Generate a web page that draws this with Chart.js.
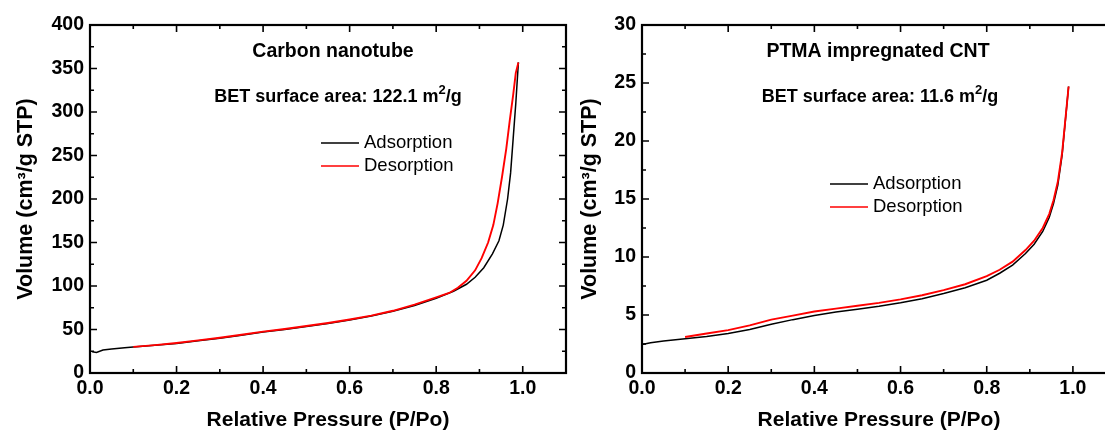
<!DOCTYPE html>
<html>
<head>
<meta charset="utf-8">
<title>N2 isotherms - CNT vs PTMA/CNT</title>
<script src="https://cdn.jsdelivr.net/npm/chart.js@4.4.1/dist/chart.umd.min.js"></script>
<style>
    html, body { margin: 0; padding: 0; background: #fff; overflow: hidden; }
    body { width: 1105px; height: 434px; position: relative; }
    .panel { position: absolute; top: 0; }
    #cntPanel { left: 0; }
    #ptmaPanel { left: 564px; }
</style>
</head>
<body>
<div class="panel" id="cntPanel"><canvas id="cntChart" width="580" height="434"></canvas></div>
<div class="panel" id="ptmaPanel"><canvas id="ptmaChart" width="566" height="434"></canvas></div>
<script>
// --- Data ---
const pressureTicks = [0, 0.2, 0.4, 0.6, 0.8, 1.0];
const cntVolumeTicks = [0, 50, 100, 150, 200, 250, 300, 350, 400];
const ptmaVolumeTicks = [0, 5, 10, 15, 20, 25, 30];

// Carbon nanotube
const cntAdsP = [0.005, 0.015, 0.03, 0.05, 0.08, 0.1, 0.15, 0.2, 0.25, 0.3, 0.35, 0.4, 0.45, 0.5, 0.55, 0.6, 0.65, 0.7, 0.75, 0.8, 0.84, 0.87, 0.89, 0.91, 0.93, 0.945, 0.955, 0.965, 0.972, 0.978, 0.984, 0.99];
const cntAdsV = [24.5, 23.5, 26.5, 27.5, 29, 30, 32, 34, 37, 40, 43.5, 47, 50, 53.5, 57, 61, 65.5, 71, 77.5, 86, 94, 102, 110, 121, 137, 152, 170, 200, 230, 270, 310, 357];
const cntDesP = [0.99, 0.984, 0.978, 0.97, 0.962, 0.952, 0.942, 0.932, 0.92, 0.905, 0.89, 0.87, 0.85, 0.83, 0.8, 0.75, 0.7, 0.65, 0.6, 0.55, 0.5, 0.45, 0.4, 0.35, 0.3, 0.25, 0.2, 0.15, 0.1];
const cntDesV = [357, 345, 320, 290, 258, 225, 195, 170, 150, 132, 118, 106, 98, 92, 87, 78.5, 71.5, 66, 61.5, 57.5, 54, 50.5, 47.5, 44, 40.5, 37.5, 34.5, 32, 30];

// PTMA impregnated CNT
const ptmaAdsP = [0.0, 0.02, 0.05, 0.1, 0.15, 0.2, 0.25, 0.3, 0.35, 0.4, 0.45, 0.5, 0.55, 0.6, 0.65, 0.7, 0.75, 0.8, 0.83, 0.86, 0.89, 0.91, 0.93, 0.945, 0.955, 0.965, 0.975, 0.99];
const ptmaAdsV = [2.45, 2.6, 2.75, 2.95, 3.15, 3.4, 3.75, 4.2, 4.6, 4.95, 5.25, 5.5, 5.75, 6.05, 6.4, 6.85, 7.35, 8.0, 8.6, 9.3, 10.3, 11.1, 12.2, 13.4, 14.6, 16.2, 18.8, 24.7];
const ptmaDesP = [0.99, 0.975, 0.965, 0.955, 0.945, 0.93, 0.91, 0.89, 0.86, 0.83, 0.8, 0.75, 0.7, 0.65, 0.6, 0.55, 0.5, 0.45, 0.4, 0.35, 0.3, 0.25, 0.2, 0.15, 0.1];
const ptmaDesV = [24.7, 19.0, 16.5, 14.9, 13.7, 12.5, 11.4, 10.6, 9.6, 8.9, 8.35, 7.65, 7.15, 6.7, 6.35, 6.05, 5.8, 5.55, 5.3, 4.95, 4.6, 4.1, 3.7, 3.4, 3.1];

const FONT = '"Liberation Sans", Arial, sans-serif';
Chart.defaults.font.family = FONT;
Chart.defaults.color = '#000';

function toPoints(ps, vs) {
    return ps.map((p, i) => ({ x: p, y: vs[i] }));
}

// midpoints between major ticks -> minor tick marks
function minorsOf(major) {
    const out = [];
    for (let i = 0; i < major.length - 1; i++) out.push((major[i] + major[i + 1]) / 2);
    return out;
}

// --- Plugin: closed frame with inward ticks on all four sides ---
const frameTicks = {
    id: 'frameTicks',
    afterDatasetsDraw(chart) {
        const { ctx, chartArea: a, scales: { x, y } } = chart;
        const xMajor = x.ticks.map(t => t.value);
        const yMajor = y.ticks.map(t => t.value);
        ctx.save();
        ctx.strokeStyle = '#000';
        ctx.lineWidth = 1.6;
        ctx.beginPath();
        const xTick = (v, len) => {
            const px = x.getPixelForValue(v);
            ctx.moveTo(px, a.bottom); ctx.lineTo(px, a.bottom - len);
            ctx.moveTo(px, a.top); ctx.lineTo(px, a.top + len);
        };
        const yTick = (v, len) => {
            const py = y.getPixelForValue(v);
            ctx.moveTo(a.left, py); ctx.lineTo(a.left + len, py);
            ctx.moveTo(a.right, py); ctx.lineTo(a.right - len, py);
        };
        xMajor.forEach(v => xTick(v, 7));
        minorsOf(xMajor).forEach(v => xTick(v, 4));
        yMajor.forEach(v => yTick(v, 7));
        minorsOf(yMajor).forEach(v => yTick(v, 4));
        ctx.stroke();
        ctx.lineWidth = 2.2;
        ctx.strokeRect(a.left, a.top, a.right - a.left, a.bottom - a.top);
        ctx.restore();
    }
};

// --- Plugin: sample name, BET note and line legend ---
function drawParts(ctx, parts, cx, cy) {
    let w = 0;
    parts.forEach(p => { ctx.font = p.font; w += ctx.measureText(p.t).width; });
    let px = cx - w / 2;
    parts.forEach(p => {
        ctx.font = p.font;
        ctx.fillText(p.t, px, cy - (p.rise || 0));
        px += ctx.measureText(p.t).width;
    });
}

const notes = {
    id: 'notes',
    afterDraw(chart, args, opts) {
        const ctx = chart.ctx;
        ctx.save();
        ctx.fillStyle = '#000';
        ctx.textBaseline = 'middle';
        ctx.textAlign = 'left';
        drawParts(ctx, [{ t: opts.name, font: 'bold 19.5px ' + FONT }], opts.nameX, opts.nameY);
        drawParts(ctx, [
            { t: 'BET surface area: ' + opts.bet + ' m', font: 'bold 18px ' + FONT },
            { t: '2', font: 'bold 13px ' + FONT, rise: 7 },
            { t: '/g', font: 'bold 18px ' + FONT }
        ], opts.betX, opts.betY);

        // legend
        ctx.font = '18.5px ' + FONT;
        chart.data.datasets.forEach((ds, i) => {
            const ly = opts.legY + i * opts.legGap;
            ctx.strokeStyle = ds.borderColor;
            ctx.lineWidth = 1.6;
            ctx.beginPath();
            ctx.moveTo(opts.legX, ly);
            ctx.lineTo(opts.legX + 38, ly);
            ctx.stroke();
            ctx.fillText(ds.label, opts.legX + 43, ly);
        });
        ctx.restore();
    }
};

function makeIsotherm(canvasId, cfg) {
    const ctx = document.getElementById(canvasId).getContext('2d');
    return new Chart(ctx, {
        type: 'line',
        data: {
            datasets: [
                {
                    label: 'Adsorption',
                    data: toPoints(cfg.adsP, cfg.adsV),
                    borderColor: '#000000',
                    borderWidth: 1.5,
                    pointRadius: 0,
                    tension: 0,
                    order: 2
                },
                {
                    label: 'Desorption',
                    data: toPoints(cfg.desP, cfg.desV),
                    borderColor: '#ff0000',
                    borderWidth: 1.9,
                    pointRadius: 0,
                    tension: 0,
                    order: 1
                }
            ]
        },
        options: {
            responsive: false,
            animation: false,
            layout: { padding: { top: 25, right: 14, left: 0, bottom: 0 } },
            plugins: {
                legend: { display: false },
                tooltip: { enabled: false },
                notes: cfg.notes
            },
            scales: {
                x: {
                    type: 'linear',
                    min: 0,
                    max: 1.1,
                    grid: { display: false, drawTicks: false },
                    border: { display: false },
                    afterBuildTicks: s => { s.ticks = pressureTicks.map(v => ({ value: v })); },
                    afterFit: s => { s.height = 61; },
                    ticks: {
                        padding: 4,
                        font: { size: 19.5, weight: 'bold' },
                        callback: v => Number(v).toFixed(1)
                    },
                    title: {
                        display: true,
                        text: 'Relative Pressure (P/Po)',
                        font: { size: 21, weight: 'bold' },
                        padding: { top: 0, bottom: 1 }
                    }
                },
                y: {
                    type: 'linear',
                    min: 0,
                    max: cfg.yTicks[cfg.yTicks.length - 1],
                    grid: { display: false, drawTicks: false },
                    border: { display: false },
                    afterBuildTicks: s => { s.ticks = cfg.yTicks.map(v => ({ value: v })); },
                    afterFit: s => { s.width = cfg.yWidth; },
                    ticks: {
                        padding: 6,
                        font: { size: 19.5, weight: 'bold' }
                    },
                    title: {
                        display: true,
                        text: 'Volume (cm³/g STP)',
                        font: { size: 21.5, weight: 'bold' },
                        padding: { top: 13, bottom: 0 }
                    }
                }
            }
        },
        plugins: [frameTicks, notes]
    });
}

document.addEventListener('DOMContentLoaded', () => {
    makeIsotherm('cntChart', {
        adsP: cntAdsP, adsV: cntAdsV,
        desP: cntDesP, desV: cntDesV,
        yTicks: cntVolumeTicks,
        yWidth: 90,
        notes: {
            name: 'Carbon nanotube', nameX: 333, nameY: 52,
            bet: '122.1', betX: 338, betY: 97,
            legX: 321, legY: 143, legGap: 23
        }
    });

    makeIsotherm('ptmaChart', {
        adsP: ptmaAdsP, adsV: ptmaAdsV,
        desP: ptmaDesP, desV: ptmaDesV,
        yTicks: ptmaVolumeTicks,
        yWidth: 78,
        notes: {
            name: 'PTMA impregnated CNT', nameX: 314, nameY: 52,
            bet: '11.6', betX: 316, betY: 97,
            legX: 266, legY: 184, legGap: 23
        }
    });
});
</script>
</body>
</html>
